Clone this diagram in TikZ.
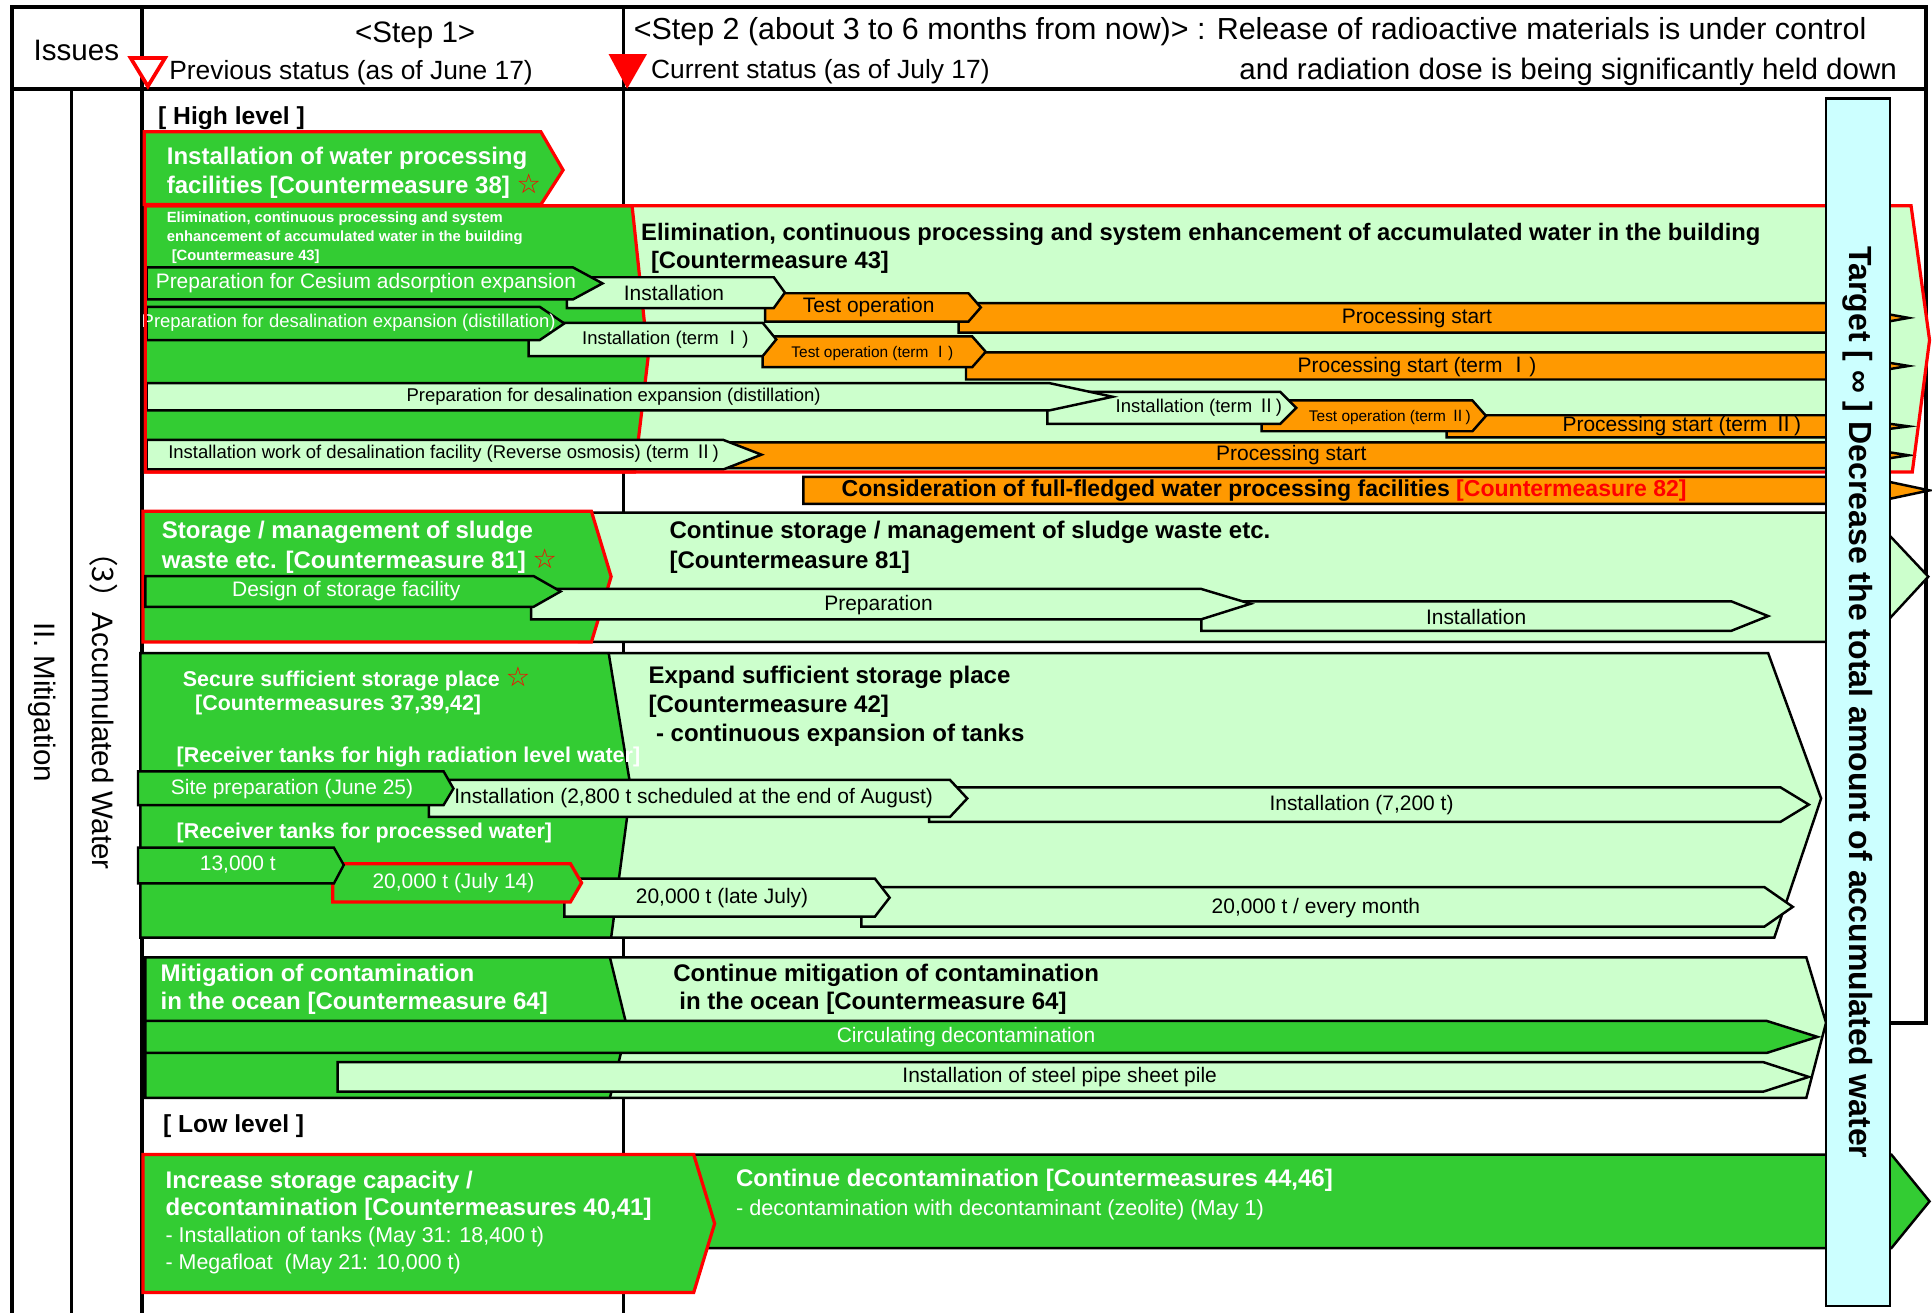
\documentclass[tikz,border=0pt]{standalone}
\usepackage{fontspec}
\setmainfont{Liberation Sans}
\newfontfamily\cjkfont{Noto Sans CJK JP}
\newfontfamily\symfont{DejaVu Sans}
\usepackage{tikz}
\definecolor{mgreen}{RGB}{51,204,51}
\definecolor{lgreen}{RGB}{204,255,204}
\definecolor{morange}{RGB}{255,153,0}
\definecolor{lcyan}{RGB}{204,255,255}
\newcommand{\tI}{{\cjkfont Ⅰ}}
\newcommand{\tII}{{\cjkfont Ⅱ}}
\newcommand{\wstar}{{\symfont\bfseries\color{red}\fontsize{11}{11}\selectfont ☆}}
\tikzset{
  thickline/.style={line width=1.6pt},
  greenbar/.style={draw=black, line width=1pt, fill=mgreen},
  lightbar/.style={draw=black, line width=1pt, fill=lgreen},
  orangebar/.style={draw=black, line width=1pt, fill=morange},
  redbox/.style={draw=red, line width=1.3pt, fill=mgreen},
  hdr/.style={inner sep=0pt, font=\fontsize{12}{14}\selectfont},
  hdrsm/.style={inner sep=0pt, font=\fontsize{10.7}{13}\selectfont},
  sidelbl/.style={inner sep=0pt, font=\fontsize{12}{14}\selectfont},
  tgtlbl/.style={inner sep=0pt, font=\fontsize{13}{14}\selectfont\bfseries},
  levellbl/.style={inner sep=0pt, font=\fontsize{10}{12}\selectfont\bfseries},
  wtitle/.style={inner sep=0pt, text=white, align=left, font=\fontsize{9.75}{11.75}\selectfont\bfseries},
  wtitlesm/.style={inner sep=0pt, text=white, align=left, font=\fontsize{8.7}{10.5}\selectfont\bfseries},
  btitle/.style={inner sep=0pt, text=black, align=left, font=\fontsize{9.75}{11.75}\selectfont\bfseries},
  wsmall/.style={inner sep=0pt, text=white, align=left, font=\fontsize{6}{7.75}\selectfont\bfseries},
  barlbl/.style={inner sep=0pt, font=\fontsize{8.5}{10}\selectfont},
  smlbl/.style={inner sep=0pt, font=\fontsize{7.5}{9}\selectfont},
  tinylbl/.style={inner sep=0pt, font=\fontsize{6.25}{7.5}\selectfont},
}

\begin{document}
\begin{tikzpicture}[x=0.5pt,y=0.5pt,yscale=-1,xscale=1]
\useasboundingbox (0,0) rectangle (1568,1066);
\fill [white] (0,0) rectangle (1568,1066);

%Shape: header frame and column lines
\draw [thickline] (10,6) -- (1563,6) -- (1563,72) -- (10,72) -- cycle ;
\draw [thickline] (115,6) -- (115,1066) ;
\draw [thickline] (506,6) -- (506,1066) ;
\draw [thickline] (10,72) -- (10,1066) ;
\draw [line width=1pt] (58,72) -- (58,1066) ;
\draw [thickline] (1563,72) -- (1563,830) -- (1534,830) ;

% Text Node
\draw (62,41) node [hdr] (issues) {Issues};
% Text Node
\draw (337,29) node [hdr] (step1) {<Step 1>};
% Text Node
\draw (137,59) node [anchor=west, hdrsm] (prevst) {Previous status (as of June 17)};
% Text Node
\draw (514,26) node [anchor=west, hdr, font=\fontsize{12.35}{14}\selectfont] (step2) {<Step 2 (about 3 to 6 months from now)> : Release of radioactive materials is under control};
% Text Node
\draw (528,58) node [anchor=west, hdrsm] (curst) {Current status (as of July 17)};
% Text Node
\draw (1540,58) node [anchor=east, hdr] (dose) {and radiation dose is being significantly held down};

%Shape: Triangles
\draw [red, line width=1.5pt, fill=white] (106,47) -- (134,47) -- (120,70) -- cycle ;
\fill [red] (494,44) -- (525,44) -- (509,72) -- cycle ;

% Text Node
\draw (34,570) node [rotate=-90, sidelbl] (mitig) {II. Mitigation};
% Text Node
\draw (84,571) node [rotate=-90, sidelbl] (accw) {{\cjkfont （3）}Accumulated Water};
% Text Node
\draw (128,96) node [anchor=west, levellbl] (high) {[ High level ]};

%Shape: Row A
\draw [redbox] (117,107) -- (439,107) -- (457,138) -- (439,166) -- (117,166) -- cycle ;
\draw (135,140) node [anchor=west, wtitle] (cm38) {Installation of water processing\\facilities [Countermeasure 38] \wstar};

%Shape: Row B
\fill [lgreen] (118,167) -- (1551,167) -- (1566,276) -- (1552,383) -- (118,383) -- cycle ;
\draw [redbox] (118,167) -- (513,167) -- (526,290) -- (515,383) -- (118,383) -- cycle ;
\draw (135,193) node [anchor=west, wsmall] (cm43s) {Elimination, continuous processing and system\\enhancement of accumulated water in the building\\\hspace{2pt}[Countermeasure 43]};
\draw (520,190) node [anchor=west, btitle, font=\fontsize{9.65}{11}\selectfont\bfseries] (cm43a) {Elimination, continuous processing and system enhancement of accumulated water in the building};
\draw (528,213) node [anchor=west, btitle, font=\fontsize{9.65}{11}\selectfont\bfseries] (cm43b) {[Countermeasure 43]};

%Arrows: chain 1
\draw [orangebar] (778,246) -- (1482,246) -- (1549,258) -- (1482,270) -- (778,270) -- cycle ;
\draw (1150,258) node [barlbl] (ps1) {Processing start};
\draw [orangebar] (621,238) -- (786,238) -- (796,249.5) -- (786,261) -- (621,261) -- cycle ;
\draw (705,249.5) node [barlbl] (to1) {Test operation};
\draw [lightbar] (460,225) -- (628,225) -- (637,237.5) -- (628,250) -- (460,250) -- cycle ;
\draw (547,238) node [barlbl] (in1) {Installation};
\draw [greenbar] (119,217) -- (465,217) -- (489,230) -- (465,243) -- (119,243) -- cycle ;
\draw (297,230) node [barlbl, text=white] (pc1) {Preparation for Cesium adsorption expansion};

%Arrows: chain 2
\draw [orangebar] (784,286) -- (1482,286) -- (1549,297) -- (1482,308) -- (784,308) -- cycle ;
\draw (1150,298) node [barlbl] (ps2) {Processing start (term \tI)};
\draw [orangebar] (619,273) -- (789,273) -- (800,285.5) -- (789,298) -- (619,298) -- cycle ;
\draw (708,287) node [tinylbl] (to2) {Test operation (term \tI)};
\draw [lightbar] (429,262) -- (619,262) -- (630,275.5) -- (619,289) -- (429,289) -- cycle ;
\draw (540,276) node [smlbl] (in2) {Installation (term \tI)};
\draw [greenbar] (119,249) -- (438,249) -- (458,262.5) -- (438,276) -- (119,276) -- cycle ;
\draw (283,262) node [smlbl, text=white] (pd2) {Preparation for desalination expansion (distillation)};

%Arrows: chain 3
\draw [orangebar] (1174,337) -- (1482,337) -- (1549,346) -- (1482,355) -- (1174,355) -- cycle ;
\draw (1365,346) node [barlbl] (ps3) {Processing start (term \tII)};
\draw [orangebar] (1024,325) -- (1195,325) -- (1206,337.5) -- (1195,350) -- (1024,350) -- cycle ;
\draw (1128,339) node [tinylbl] (to3) {Test operation (term \tII)};
\draw [lightbar] (850,318) -- (1039,318) -- (1052,331) -- (1039,344) -- (850,344) -- cycle ;
\draw (973,331) node [smlbl] (in3) {Installation (term \tII)};
\draw [lightbar] (119,311) -- (852,311) -- (903,322) -- (852,333) -- (119,333) -- cycle ;
\draw (498,322) node [smlbl] (pd3) {Preparation for desalination expansion (distillation)};

%Arrows: chain 4
\draw [orangebar] (585,359) -- (1482,359) -- (1549,369.5) -- (1482,380) -- (585,380) -- cycle ;
\draw (1048,369) node [barlbl] (ps4) {Processing start};
\draw [lightbar] (119,357) -- (587,357) -- (618,369) -- (587,381) -- (119,381) -- cycle ;
\draw (360,368) node [smlbl] (ro4) {Installation work of desalination facility (Reverse osmosis) (term \tII)};

\draw [red, line width=1.3pt] (118,167) -- (1551,167) -- (1566,276) -- (1552,383) -- (118,383) -- cycle ;

%Arrow: Countermeasure 82
\draw [orangebar] (652,387) -- (1514,387) -- (1566,398) -- (1514,409) -- (652,409) -- cycle ;
\draw (1026,398) node [barlbl, font=\fontsize{9.35}{10}\selectfont\bfseries] (cm82) {Consideration of full-fledged water processing facilities {\color{red}[Countermeasure 82]}};

%Shape: Row C
\draw [lightbar] (470,416) -- (1516,416) -- (1565,468) -- (1516,521) -- (470,521) -- cycle ;
\draw [redbox] (116,415) -- (480,415) -- (496,468) -- (480,521) -- (116,521) -- cycle ;
\draw (131,444) node [anchor=west, wtitle, font=\fontsize{9.75}{12}\selectfont\bfseries] (cm81) {Storage / management of sludge\\waste etc. [Countermeasure 81] \wstar};
\draw (543,444) node [anchor=west, btitle, font=\fontsize{9.75}{12}\selectfont\bfseries] (cm81b) {Continue storage / management of sludge waste etc.\\{}[Countermeasure 81]};
\draw [lightbar] (975,488) -- (1405,488) -- (1435,500) -- (1405,512) -- (975,512) -- cycle ;
\draw (1198,501) node [barlbl] (sgin) {Installation};
\draw [lightbar] (431,478) -- (975,478) -- (1015,490) -- (975,502.6) -- (431,502.6) -- cycle ;
\draw (713,491) node [barlbl] (sgpr) {Preparation};
\draw [greenbar] (118,467.5) -- (433,467.5) -- (455,480) -- (433,492.5) -- (118,492.5) -- cycle ;
\draw (281,480) node [barlbl, text=white] (sgds) {Design of storage facility};

%Shape: Row D
\draw [lightbar] (480,530) -- (1435,530) -- (1478,648) -- (1440,761) -- (480,761) -- cycle ;
\draw [greenbar] (114,530) -- (494,530) -- (512,640) -- (496,761) -- (114,761) -- cycle ;
\draw (148,551) node [anchor=west, wtitlesm] (cm37) {Secure sufficient storage place \wstar};
\draw (158,572) node [anchor=west, wtitlesm] (cm37b) {[Countermeasures 37,39,42]};
\draw (526,573) node [anchor=west, btitle] (cm42) {Expand sufficient storage place\\{}[Countermeasure 42]\\\hspace{3pt}- continuous expansion of tanks};
\draw (143,614) node [anchor=west, wtitlesm] (rthigh) {[Receiver tanks for high radiation level water]};
\draw (143,676) node [anchor=west, wtitlesm] (rtproc) {[Receiver tanks for processed water]};
\draw [lightbar] (754,639) -- (1445,639) -- (1468,653) -- (1445,667) -- (754,667) -- cycle ;
\draw (1105,653) node [barlbl] (t7200) {Installation (7,200 t)};
\draw [lightbar] (348,633) -- (771,633) -- (785,648) -- (771,663) -- (348,663) -- cycle ;
\draw (563,648) node [barlbl] (t2800) {Installation (2,800 t scheduled at the end of August)};
\draw [greenbar] (112,626) -- (360,626) -- (368,640) -- (360,653.4) -- (112,653.4) -- cycle ;
\draw (237,640) node [barlbl, text=white] (site) {Site preparation (June 25)};
\draw [lightbar] (699,720) -- (1432,720) -- (1455,736) -- (1432,752) -- (699,752) -- cycle ;
\draw (1068,737) node [barlbl] (tmon) {20,000 t / every month};
\draw [lightbar] (458,713) -- (710,713) -- (722,728.5) -- (710,744) -- (458,744) -- cycle ;
\draw (586,729) node [barlbl] (tlate) {20,000 t (late July)};
\draw [redbox] (270,701) -- (463,701) -- (472,716.5) -- (463,732) -- (270,732) -- cycle ;
\draw (368,717) node [barlbl, text=white] (tjul) {20,000 t (July 14)};
\draw [greenbar] (112,688) -- (271,688) -- (279,702) -- (271,717) -- (112,717) -- cycle ;
\draw (193,702) node [barlbl, text=white] (t13) {13,000 t};

%Shape: Row E
\draw [lightbar] (480,777) -- (1466,777) -- (1482,830) -- (1466,891) -- (480,891) -- cycle ;
\draw [greenbar] (118,777) -- (495,777) -- (509,834) -- (495,891) -- (118,891) -- cycle ;
\draw (130,803) node [anchor=west, wtitle, font=\fontsize{9.75}{11.25}\selectfont\bfseries] (cm64) {Mitigation of contamination\\in the ocean [Countermeasure 64]};
\draw (546,791.5) node [anchor=west, btitle] (cm64a) {Continue mitigation of contamination};
\draw (551,814) node [anchor=west, btitle] (cm64b) {in the ocean [Countermeasure 64]};
\draw [greenbar] (118,828.6) -- (1434,828.6) -- (1475,841.5) -- (1434,854.5) -- (118,854.5) -- cycle ;
\draw (784,842) node [barlbl, text=white] (circ) {Circulating decontamination};
\draw [lightbar] (274,862) -- (1431,862) -- (1468,874) -- (1431,886) -- (274,886) -- cycle ;
\draw (860,874) node [barlbl] (pile) {Installation of steel pipe sheet pile};

% Text Node
\draw (132,914) node [anchor=west, levellbl] (low) {[ Low level ]};

%Shape: Row F
\draw [greenbar] (560,937) -- (1535,937) -- (1566,975) -- (1535,1013) -- (560,1013) -- cycle ;
\draw [redbox] (116,937) -- (563,937) -- (580,993) -- (563,1049) -- (116,1049) -- cycle ;
\draw (134,992) node [anchor=west, wtitle, font=\fontsize{9.75}{11}\selectfont\bfseries] (cm40) {Increase storage capacity /\\decontamination [Countermeasures 40,41]\\{\mdseries\fontsize{8.7}{11}\selectfont - Installation of tanks (May 31: 18,400 t)}\\{\mdseries\fontsize{8.7}{11}\selectfont - Megafloat\ \ (May 21: 10,000 t)}};
\draw (597,969.5) node [anchor=west, wtitle, font=\fontsize{9.75}{11.5}\selectfont\bfseries] (cm44) {Continue decontamination [Countermeasures 44,46]\\{\mdseries\fontsize{8.8}{11.5}\selectfont - decontamination with decontaminant (zeolite) (May 1)}};

%Shape: Target column
\draw [fill=lcyan, line width=1pt] (1482,80) rectangle (1534,1060);
\draw (1508,570) node [rotate=-90, tgtlbl] (target) {Target [ ∞ ] Decrease the total amount of accumulated water};

\end{tikzpicture}
\end{document}
